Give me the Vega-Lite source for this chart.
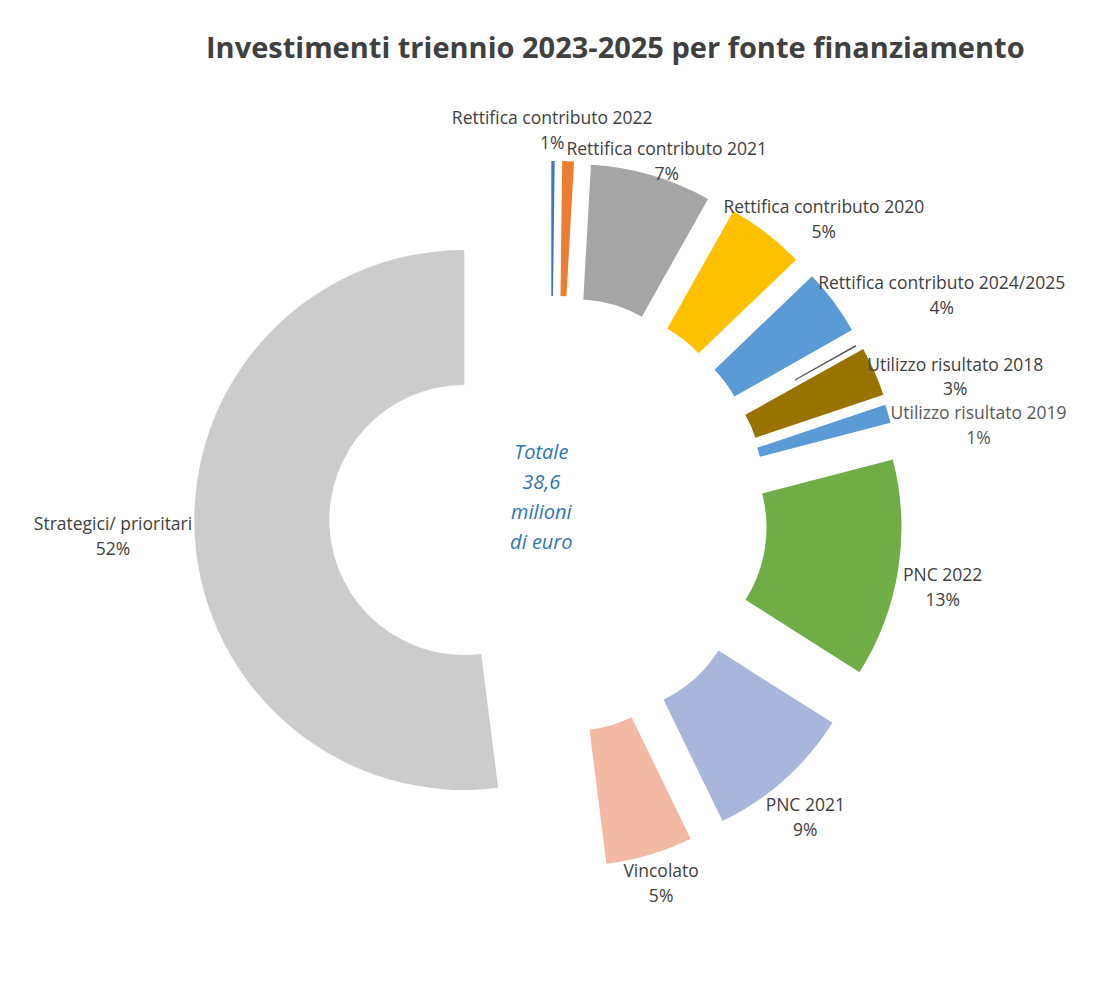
{
  "$schema": "https://vega.github.io/schema/vega-lite/v6.json",
  "autosize": "none",
  "width": 928.6,
  "height": 880,
  "padding": {"left": 0, "top": 80, "right": 170.4, "bottom": 47},
  "background": "white",
  "title": {
    "text": "Investimenti triennio 2023-2025 per fonte finanziamento",
    "font": "Open Sans",
    "fontSize": 29,
    "fontWeight": "bold",
    "color": "#404040",
    "anchor": "middle",
    "frame": "group",
    "dx": 151,
    "offset": 16
  },
  "config": {"view": {"stroke": null}},
  "data": {
    "values": [
      {"ordine": 1, "fonte": "Altro n.d. 1", "quota": 0.002},
      {"ordine": 2, "fonte": "Rettifica contributo 2022", "quota": 0.007},
      {"ordine": 3, "fonte": "Rettifica contributo 2021", "quota": 0.0725},
      {"ordine": 4, "fonte": "Rettifica contributo 2020", "quota": 0.047},
      {"ordine": 5, "fonte": "Rettifica contributo 2024/2025", "quota": 0.0395},
      {"ordine": 6, "fonte": "Altro n.d. 2", "quota": 0.001},
      {"ordine": 7, "fonte": "Utilizzo risultato 2018", "quota": 0.0295},
      {"ordine": 8, "fonte": "Utilizzo risultato 2019", "quota": 0.011},
      {"ordine": 9, "fonte": "PNC 2022", "quota": 0.1305},
      {"ordine": 10, "fonte": "PNC 2021", "quota": 0.088},
      {"ordine": 11, "fonte": "Vincolato", "quota": 0.052},
      {"ordine": 12, "fonte": "Strategici/ prioritari", "quota": 0.52}
    ]
  },
  "transform": [
    {"stack": "quota", "groupby": [], "sort": [{"field": "ordine", "order": "ascending"}], "as": ["q0", "q1"]},
    {"calculate": "(datum.q0 + datum.q1) / 2", "as": "qmid"},
    {"calculate": "[datum.fonte, format(datum.quota, '.0%')]", "as": "etichetta"}
  ],
  "layer": [
    {
      "transform": [{"filter": "datum.ordine == 1"}],
      "mark": {"type": "arc", "radius": 270, "radius2": 135, "xOffset": 87, "yOffset": -89, "color": "#4472C4"},
      "encoding": {
        "theta": {"field": "q0", "type": "quantitative", "scale": {"domain": [0, 1]}, "stack": null},
        "theta2": {"field": "q1"}
      }
    },
    {
      "transform": [{"filter": "datum.ordine == 2"}],
      "layer": [
        {
          "mark": {"type": "arc", "radius": 270, "radius2": 135, "xOffset": 94.5, "yOffset": -89, "color": "#ED7D31"},
          "encoding": {
            "theta": {"field": "q0", "type": "quantitative", "scale": {"domain": [0, 1]}, "stack": null},
            "theta2": {"field": "q1"}
          }
        },
        {
          "mark": {"type": "text", "radius": 300.6, "xOffset": 94.5, "yOffset": -89, "dx": -17, "dy": -11.5, "font": "Open Sans", "fontSize": 17.5, "color": "#404040", "lineHeight": 25, "align": "center", "baseline": "middle"},
          "encoding": {
            "theta": {"field": "qmid", "type": "quantitative", "scale": {"domain": [0, 1]}, "stack": null},
            "text": {"field": "etichetta"}
          }
        }
      ]
    },
    {
      "transform": [{"filter": "datum.ordine == 3"}],
      "layer": [
        {
          "mark": {"type": "arc", "radius": 270, "radius2": 135, "xOffset": 111.4, "yOffset": -85.6, "color": "#A5A5A5"},
          "encoding": {
            "theta": {"field": "q0", "type": "quantitative", "scale": {"domain": [0, 1]}, "stack": null},
            "theta2": {"field": "q1"}
          }
        },
        {
          "mark": {"type": "text", "radius": 289, "xOffset": 111.4, "yOffset": -85.6, "dx": 10, "dy": -7.5, "font": "Open Sans", "fontSize": 17.5, "color": "#404040", "lineHeight": 25, "align": "center", "baseline": "middle"},
          "encoding": {
            "theta": {"field": "qmid", "type": "quantitative", "scale": {"domain": [0, 1]}, "stack": null},
            "text": {"field": "etichetta"}
          }
        }
      ]
    },
    {
      "transform": [{"filter": "datum.ordine == 4"}],
      "layer": [
        {
          "mark": {"type": "arc", "radius": 270, "radius2": 135, "xOffset": 136.7, "yOffset": -73.5, "color": "#FFC000"},
          "encoding": {
            "theta": {"field": "q0", "type": "quantitative", "scale": {"domain": [0, 1]}, "stack": null},
            "theta2": {"field": "q1"}
          }
        },
        {
          "mark": {"type": "text", "radius": 317, "xOffset": 136.7, "yOffset": -73.5, "dx": 28.5, "dy": 11.5, "font": "Open Sans", "fontSize": 17.5, "color": "#404040", "lineHeight": 25, "align": "center", "baseline": "middle"},
          "encoding": {
            "theta": {"field": "qmid", "type": "quantitative", "scale": {"domain": [0, 1]}, "stack": null},
            "text": {"field": "etichetta"}
          }
        }
      ]
    },
    {
      "transform": [{"filter": "datum.ordine == 5"}],
      "layer": [
        {
          "mark": {"type": "arc", "radius": 270, "radius2": 135, "xOffset": 152.7, "yOffset": -57, "color": "#5B9BD5"},
          "encoding": {
            "theta": {"field": "q0", "type": "quantitative", "scale": {"domain": [0, 1]}, "stack": null},
            "theta2": {"field": "q1"}
          }
        },
        {
          "mark": {"type": "text", "radius": 361, "xOffset": 152.7, "yOffset": -57, "dx": 35, "dy": 36.5, "font": "Open Sans", "fontSize": 17.5, "color": "#404040", "lineHeight": 25, "align": "center", "baseline": "middle"},
          "encoding": {
            "theta": {"field": "qmid", "type": "quantitative", "scale": {"domain": [0, 1]}, "stack": null},
            "text": {"field": "etichetta"}
          }
        }
      ]
    },
    {
      "transform": [{"filter": "datum.ordine == 6"}],
      "mark": {"type": "arc", "radius": 270, "radius2": 200, "xOffset": 156.3, "yOffset": -42, "color": "#595959"},
      "encoding": {
        "theta": {"field": "q0", "type": "quantitative", "scale": {"domain": [0, 1]}, "stack": null},
        "theta2": {"field": "q1"}
      }
    },
    {
      "transform": [{"filter": "datum.ordine == 7"}],
      "layer": [
        {
          "mark": {"type": "arc", "radius": 270, "radius2": 135, "xOffset": 163.1, "yOffset": -39.4, "color": "#997300"},
          "encoding": {
            "theta": {"field": "q0", "type": "quantitative", "scale": {"domain": [0, 1]}, "stack": null},
            "theta2": {"field": "q1"}
          }
        },
        {
          "mark": {"type": "text", "radius": 342, "xOffset": 163.1, "yOffset": -39.4, "dx": 15, "dy": 23.5, "font": "Open Sans", "fontSize": 17.5, "color": "#404040", "lineHeight": 24, "align": "center", "baseline": "middle"},
          "encoding": {
            "theta": {"field": "qmid", "type": "quantitative", "scale": {"domain": [0, 1]}, "stack": null},
            "text": {"field": "etichetta"}
          }
        }
      ]
    },
    {
      "transform": [{"filter": "datum.ordine == 8"}],
      "layer": [
        {
          "mark": {"type": "arc", "radius": 270, "radius2": 135, "xOffset": 164.9, "yOffset": -29.3, "color": "#5B9BD5"},
          "encoding": {
            "theta": {"field": "q0", "type": "quantitative", "scale": {"domain": [0, 1]}, "stack": null},
            "theta2": {"field": "q1"}
          }
        },
        {
          "mark": {"type": "text", "radius": 354, "xOffset": 164.9, "yOffset": -29.3, "dx": 10, "dy": 24, "font": "Open Sans", "fontSize": 17.5, "color": "#595959", "lineHeight": 25, "align": "center", "baseline": "middle"},
          "encoding": {
            "theta": {"field": "qmid", "type": "quantitative", "scale": {"domain": [0, 1]}, "stack": null},
            "text": {"field": "etichetta"}
          }
        }
      ]
    },
    {
      "transform": [{"filter": "datum.ordine == 9"}],
      "layer": [
        {
          "mark": {"type": "arc", "radius": 270, "radius2": 135, "xOffset": 167.2, "yOffset": 7.5, "color": "#70AD47"},
          "encoding": {
            "theta": {"field": "q0", "type": "quantitative", "scale": {"domain": [0, 1]}, "stack": null},
            "theta2": {"field": "q1"}
          }
        },
        {
          "mark": {"type": "text", "radius": 317, "xOffset": 167.2, "yOffset": 7.5, "dx": -2, "dy": -0.5, "font": "Open Sans", "fontSize": 17.5, "color": "#404040", "lineHeight": 25, "align": "center", "baseline": "middle"},
          "encoding": {
            "theta": {"field": "qmid", "type": "quantitative", "scale": {"domain": [0, 1]}, "stack": null},
            "text": {"field": "etichetta"}
          }
        }
      ]
    },
    {
      "transform": [{"filter": "datum.ordine == 10"}],
      "layer": [
        {
          "mark": {"type": "arc", "radius": 270, "radius2": 135, "xOffset": 140.2, "yOffset": 58.2, "color": "#A9B6DB"},
          "encoding": {
            "theta": {"field": "q0", "type": "quantitative", "scale": {"domain": [0, 1]}, "stack": null},
            "theta2": {"field": "q1"}
          }
        },
        {
          "mark": {"type": "text", "radius": 312, "xOffset": 140.2, "yOffset": 58.2, "dx": -7, "dy": -4.5, "font": "Open Sans", "fontSize": 17.5, "color": "#404040", "lineHeight": 25, "align": "center", "baseline": "middle"},
          "encoding": {
            "theta": {"field": "qmid", "type": "quantitative", "scale": {"domain": [0, 1]}, "stack": null},
            "text": {"field": "etichetta"}
          }
        }
      ]
    },
    {
      "transform": [{"filter": "datum.ordine == 11"}],
      "layer": [
        {
          "mark": {"type": "arc", "radius": 270, "radius2": 135, "xOffset": 108.3, "yOffset": 75.9, "color": "#F4B9A5"},
          "encoding": {
            "theta": {"field": "q0", "type": "quantitative", "scale": {"domain": [0, 1]}, "stack": null},
            "theta2": {"field": "q1"}
          }
        },
        {
          "mark": {"type": "text", "radius": 300, "xOffset": 108.3, "yOffset": 75.9, "dx": 3, "dy": -11.5, "font": "Open Sans", "fontSize": 17.5, "color": "#404040", "lineHeight": 25, "align": "center", "baseline": "middle"},
          "encoding": {
            "theta": {"field": "qmid", "type": "quantitative", "scale": {"domain": [0, 1]}, "stack": null},
            "text": {"field": "etichetta"}
          }
        }
      ]
    },
    {
      "transform": [{"filter": "datum.ordine == 12"}],
      "layer": [
        {
          "mark": {"type": "arc", "radius": 270, "radius2": 135, "color": "#CCCCCC"},
          "encoding": {
            "theta": {"field": "q0", "type": "quantitative", "scale": {"domain": [0, 1]}, "stack": null},
            "theta2": {"field": "q1"}
          }
        },
        {
          "mark": {"type": "text", "radius": 350, "dx": -2, "dy": -17, "font": "Open Sans", "fontSize": 17.5, "color": "#404040", "lineHeight": 25, "align": "center", "baseline": "middle"},
          "encoding": {
            "theta": {"field": "qmid", "type": "quantitative", "scale": {"domain": [0, 1]}, "stack": null},
            "text": {"field": "etichetta"}
          }
        },
        {
          "mark": {"type": "text", "dx": 77, "dy": -67, "font": "Open Sans", "fontSize": 20, "fontStyle": "italic", "color": "#2E75B6", "lineHeight": 30, "align": "center", "baseline": "middle"},
          "encoding": {
            "text": {"value": ["Totale", "38,6", "milioni", "di euro"]}
          }
        }
      ]
    }
  ]
}
